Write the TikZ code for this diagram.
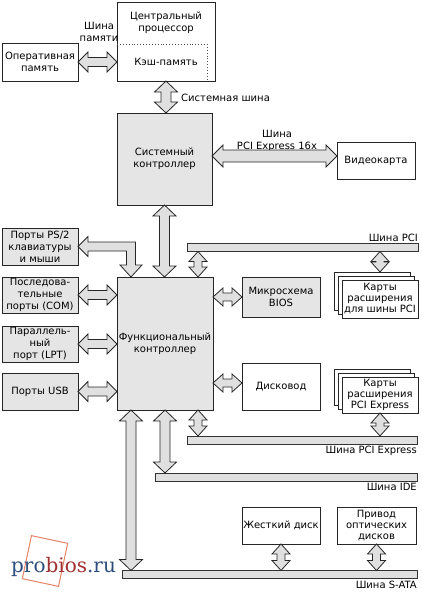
\documentclass[tikz,border=0pt]{standalone}
\usepackage{fontspec}
\setmainfont{DejaVu Sans}
\newfontfamily\logofont{DejaVu Serif}
\usetikzlibrary{calc}
\newcommand\dblarrow[5]{%
 \filldraw[blockarrow] (#1)
 -- ($(#1)!#3!(#2)!#4!90:(#2)$)
 -- ($(#1)!#3!(#2)!#5!90:(#2)$)
 -- ($(#2)!#3!(#1)!#5!-90:(#1)$)
 -- ($(#2)!#3!(#1)!#4!-90:(#1)$)
 -- (#2)
 -- ($(#2)!#3!(#1)!#4!90:(#1)$)
 -- ($(#2)!#3!(#1)!#5!90:(#1)$)
 -- ($(#1)!#3!(#2)!#5!-90:(#2)$)
 -- ($(#1)!#3!(#2)!#4!-90:(#2)$)
 -- cycle;}
\newcommand\bigarrow[2]{\dblarrow{#1}{#2}{11pt}{11.5pt}{5pt}}
\newcommand\midarrow[2]{\dblarrow{#1}{#2}{10pt}{10pt}{4.5pt}}
\newcommand\smallarrow[2]{\dblarrow{#1}{#2}{10pt}{9pt}{4pt}}
\begin{document}
\begin{tikzpicture}[x=1pt,y=-1pt,
  font=\fontsize{10}{12}\selectfont,
  box/.style={draw=black!85, line width=0.8pt, inner sep=0pt, outer sep=0pt, align=center},
  grbox/.style={box, fill=black!10},
  wbox/.style={box, fill=white},
  bus/.style={draw=black!80, line width=0.8pt, fill=black!12, inner sep=0pt, outer sep=0pt, minimum height=8pt},
  lbl/.style={inner sep=0pt, align=center},
  blockarrow/.style={draw=black!85, fill=black!12, line width=0.8pt, line join=miter},
  cardtxt/.style={font=\fontsize{10}{11}\selectfont}]
\useasboundingbox (0,0) rectangle (421,592);

% watermark
\node[draw=red!40!brown!70, line width=1pt, rotate=-12, minimum width=37pt, minimum height=44pt, inner sep=0pt] (logobox) at (45,561) {};
\node[lbl, anchor=base west, font=\logofont\fontsize{20}{21}\selectfont] (logo) at (11,572)
  {\textcolor[HTML]{2E4E7E}{pro}\textcolor[HTML]{A03030}{bios}\textcolor[HTML]{2E4E7E}{.ru}};

% CPU and RAM
\node[wbox, minimum width=98pt, minimum height=79pt] (cpu) at (166,41.5) {};
\node[lbl] (cputxt) at (166,23) {Центральный\\процессор};
\node[lbl] (cachetxt) at (166,62) {Кэш-память};
\draw[black!70, dotted, line width=0.9pt] (cpu.west |- 0,44) coordinate (d1) -- (207,44) coordinate (d2) -- (d2 |- cpu.south) coordinate (d3);
\node[wbox, minimum width=76pt, minimum height=38pt] (ram) at (40,62) {Оперативная\\память};
\node[lbl] (memlbl) at (99,32) {Шина\\памяти};

% system controller and video
\node[grbox, minimum width=95pt, minimum height=92pt] (sys) at (164.5,159) {Системный\\контроллер};
\node[wbox, minimum width=78pt, minimum height=37pt] (video) at (376,160.5) {Видеокарта};
\node[lbl, anchor=west] (syslbl) at (181,98) {Системная шина};
\node[lbl] (pcix16lbl) at (277,141) {Шина\\PCI Express 16x};

% functional controller
\node[grbox, minimum width=96pt, minimum height=133pt] (func) at (165,343.5) {Функциональный\\контроллер};

% left ports
\node[grbox, minimum width=76pt, minimum height=37pt] (ps2) at (40,246.5) {Порты PS/2\\клавиатуры\\и мыши};
\node[grbox, minimum width=76pt, minimum height=36pt] (com) at (40,295) {Последова-\\тельные\\порты (COM)};
\node[grbox, minimum width=76pt, minimum height=36pt] (lpt) at (40,344) {Параллель-\\ный\\порт (LPT)};
\node[grbox, minimum width=76pt, minimum height=37pt] (usb) at (40,391.5) {Порты USB};

% right devices
\node[grbox, minimum width=78pt, minimum height=40pt] (bios) at (281,297) {Микросхема\\BIOS};
\node[wbox, minimum width=78pt, minimum height=47pt] (disk) at (281,386.5) {Дисковод};

\node[wbox, minimum width=76pt, minimum height=38pt] (pcicard3) at (372,291) {};
\node[wbox, minimum width=76pt, minimum height=38pt] (pcicard2) at (376,295) {};
\node[wbox, minimum width=76pt, minimum height=38pt, cardtxt] (pcicard1) at (380,299) {Карты\\расширения\\для шины PCI};

\node[wbox, minimum width=76pt, minimum height=36pt] (pciecard3) at (372,387) {};
\node[wbox, minimum width=76pt, minimum height=36pt] (pciecard2) at (376,391) {};
\node[wbox, minimum width=76pt, minimum height=36pt, cardtxt] (pciecard1) at (380,395) {Карты\\расширения\\PCI Express};

\node[wbox, minimum width=78pt, minimum height=37pt] (hdd) at (281,525.5) {Жесткий диск};
\node[wbox, minimum width=79pt, minimum height=37pt, cardtxt] (odd) at (376.5,525.5) {Привод\\оптических\\дисков};

% buses
\node[bus, minimum width=231pt] (pcibar) at (302.5,247.5) {};
\node[bus, minimum width=230pt] (pciebar) at (302,440) {};
\node[bus, minimum width=262pt] (idebar) at (286,477) {};
\node[bus, minimum width=295pt] (satabar) at (269.5,574.5) {};
\node[lbl, anchor=south east] (pcilbl) at ([yshift=1.5pt]pcibar.north east) {Шина PCI};
\node[lbl, anchor=north east] (pcielbl) at ([yshift=-2pt]pciebar.south east) {Шина PCI Express};
\node[lbl, anchor=north east] (idelbl) at ([yshift=-2pt]idebar.south east) {Шина IDE};
\node[lbl, anchor=north east] (satalbl) at ([yshift=-2pt]satabar.south east) {Шина S-ATA};

% connector end points
\coordinate (a1) at (ram.east);
\coordinate (a2) at (ram.east -| cpu.west);
\coordinate (b1) at (cpu.south);
\coordinate (b2) at (cpu.south |- sys.north);
\coordinate (c1) at ([yshift=3pt]sys.east);
\coordinate (c2) at (c1 -| video.west);
\coordinate (e1) at (sys.south);
\coordinate (e2) at (sys.south |- func.north);
\coordinate (f1) at (com.east);
\coordinate (f2) at (com.east -| func.west);
\coordinate (g1) at (lpt.east);
\coordinate (g2) at (lpt.east -| func.west);
\coordinate (h1) at (usb.east);
\coordinate (h2) at (usb.east -| func.west);
\coordinate (i1) at (bios.west -| func.east);
\coordinate (i2) at (bios.west);
\coordinate (j1) at ([yshift=3.5pt]disk.west -| func.east);
\coordinate (j2) at ([yshift=3.5pt]disk.west);
\coordinate (k1) at ([xshift=-15pt]func.north east);
\coordinate (k2) at (k1 |- pcibar.south);
\coordinate (l1) at (pcicard1.north |- pcibar.south);
\coordinate (l2) at (pcicard1.north |- pcicard3.north);
\coordinate (m1) at ([xshift=-15pt]func.south east);
\coordinate (m2) at (m1 |- pciebar.north);
\coordinate (n1) at (pciecard1.south);
\coordinate (n2) at (pciecard1.south |- pciebar.north);
\coordinate (o1) at (func.south);
\coordinate (o2) at (func.south |- idebar.north);
\coordinate (p1) at ([xshift=14pt]func.south west);
\coordinate (p2) at (p1 |- satabar.north);
\coordinate (q1) at (hdd.south);
\coordinate (q2) at (hdd.south |- satabar.north);
\coordinate (r1) at (odd.south);
\coordinate (r2) at (odd.south |- satabar.north);
\coordinate (psL) at (ps2.east);
\coordinate (psB) at ([xshift=14pt]func.north west);

% connectors
\midarrow{a1}{a2}
\bigarrow{b1}{b2}
\dblarrow{c1}{c2}{11pt}{11pt}{6pt}
\bigarrow{e1}{e2}
\midarrow{f1}{f2}
\midarrow{g1}{g2}
\midarrow{h1}{h2}
\smallarrow{i1}{i2}
\smallarrow{j1}{j2}
\smallarrow{k1}{k2}
\smallarrow{l1}{l2}
\smallarrow{m1}{m2}
\smallarrow{n1}{n2}
\bigarrow{o1}{o2}
\bigarrow{p1}{p2}
\smallarrow{q1}{q2}
\smallarrow{r1}{r2}
\filldraw[blockarrow] let \p1=(psL), \p2=(psB) in
  (\p1) -- (\x1+10pt,\y1+10pt) -- (\x1+10pt,\y1+4.5pt) -- (\x2+4.5pt,\y1+4.5pt)
  -- (\x2+4.5pt,\y2+12pt) -- (\x2+11pt,\y2+12pt) -- (\p2) -- (\x2-11pt,\y2+12pt)
  -- (\x2-4.5pt,\y2+12pt) -- (\x2-4.5pt,\y1-4.5pt) -- (\x1+10pt,\y1-4.5pt)
  -- (\x1+10pt,\y1-10pt) -- cycle;
\end{tikzpicture}
\end{document}
